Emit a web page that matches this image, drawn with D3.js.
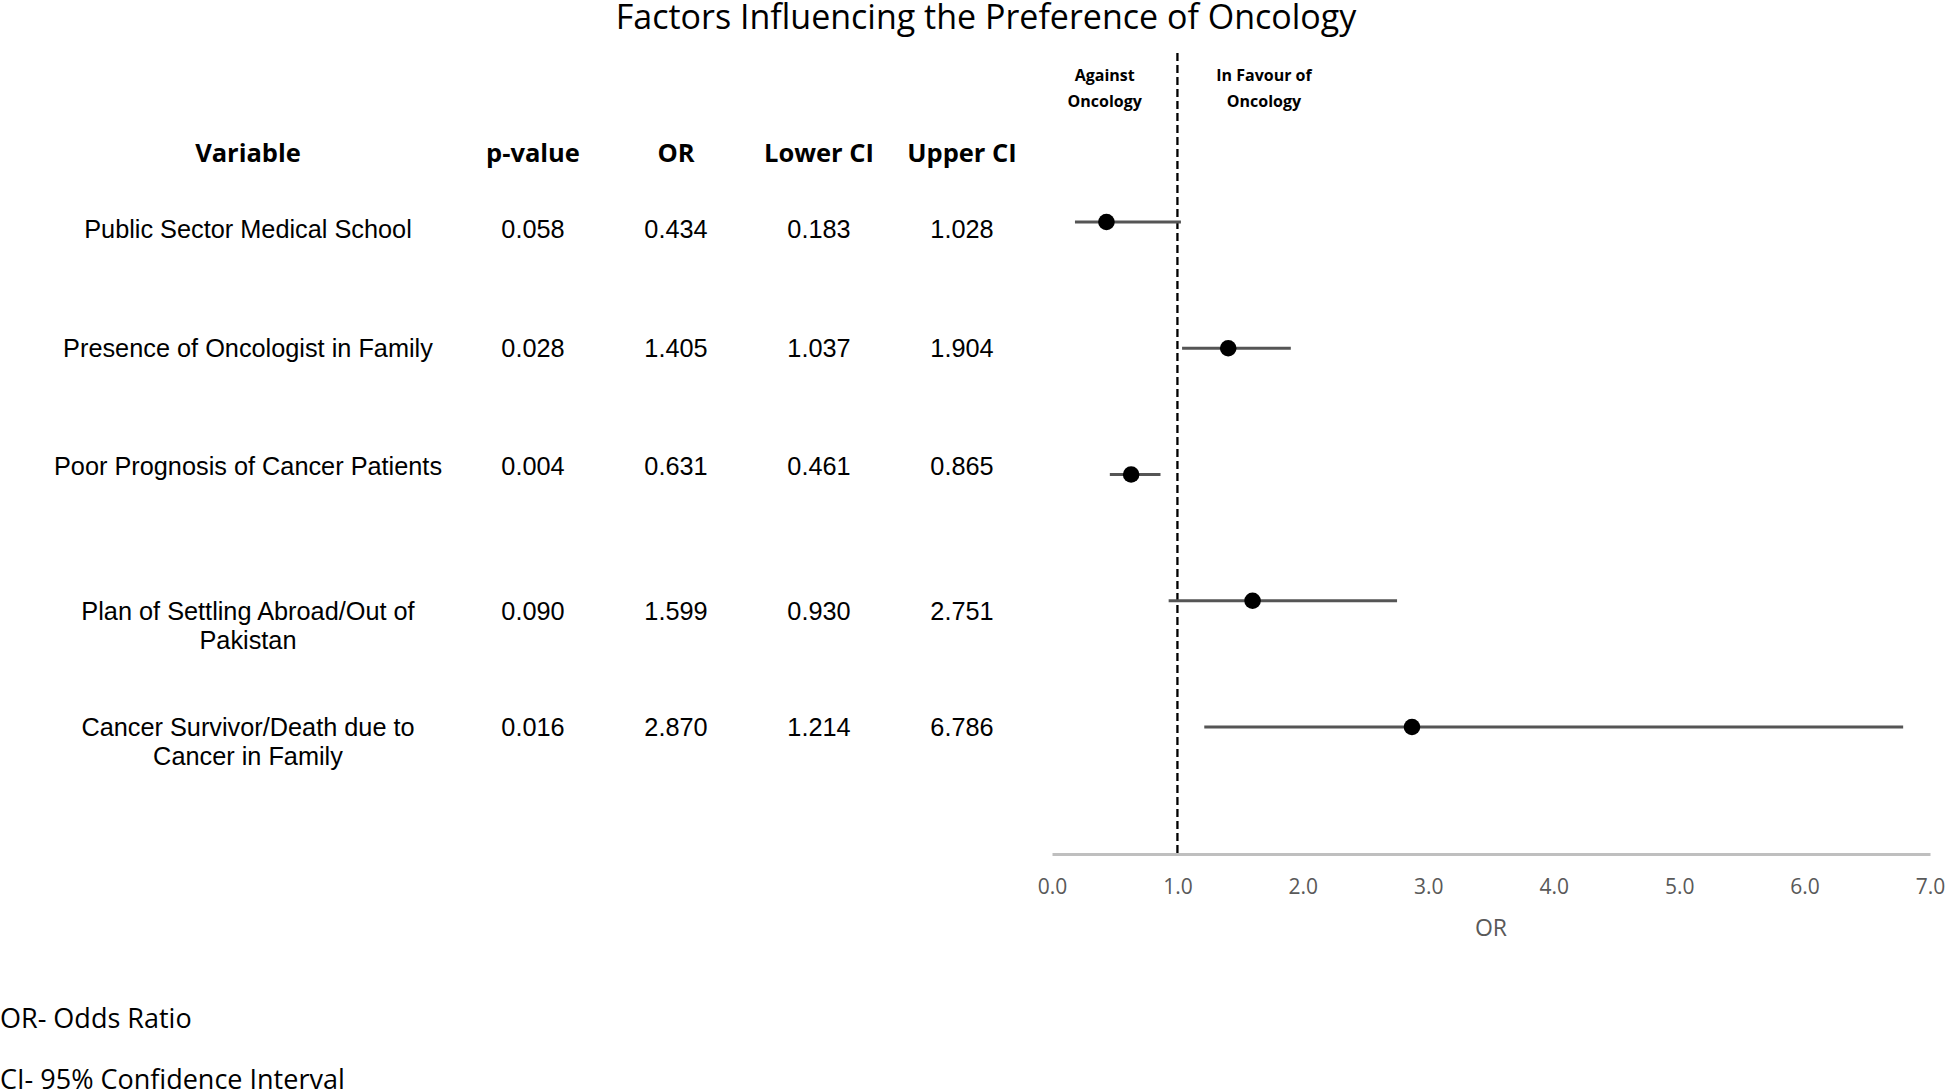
<!DOCTYPE html>
<html>
<head>
<meta charset="utf-8">
<script src="https://cdn.jsdelivr.net/npm/d3@7"></script>
<style>
  html, body { margin: 0; padding: 0; background: #fff; }
  svg { display: block; }
</style>
</head>
<body>
<svg id="chart" width="1952" height="1092"></svg>
<script>
// ---- Data ----
const variables = [
  "Public Sector Medical School",
  "Presence of Oncologist in Family",
  "Poor Prognosis of Cancer Patients",
  "Plan of Settling Abroad/Out of Pakistan",
  "Cancer Survivor/Death due to Cancer in Family"
];
const variableLines = [
  ["Public Sector Medical School"],
  ["Presence of Oncologist in Family"],
  ["Poor Prognosis of Cancer Patients"],
  ["Plan of Settling Abroad/Out of", "Pakistan"],
  ["Cancer Survivor/Death due to", "Cancer in Family"]
];
const pValues = ["0.058", "0.028", "0.004", "0.090", "0.016"];
const orValues = [0.434, 1.405, 0.631, 1.599, 2.870];
const lowerCI = [0.183, 1.037, 0.461, 0.930, 1.214];
const upperCI = [1.028, 1.904, 0.865, 2.751, 6.786];
const xTicks = [0, 1, 2, 3, 4, 5, 6, 7];
const headers = ["Variable", "p-value", "OR", "Lower CI", "Upper CI"];
const footnotes = ["OR- Odds Ratio", "CI- 95% Confidence Interval"];

// ---- Layout ----
const svg = d3.select("#chart");
const sansUI = "'Open Sans', 'DejaVu Sans', sans-serif";
const arial = "'Liberation Sans', Arial, sans-serif";

const x = d3.scaleLinear().domain([0, 7]).range([1052, 1930]);
const y = d3.scalePoint().domain(variables).range([222, 727]);
const axisY = 854;

const colX = [248, 533, 676, 819, 962];
const tableNudge = [7, 0, -8, 10, 0];
const lineGap = 29;

// Title
svg.append("text")
  .attr("x", 986).attr("y", 29)
  .attr("text-anchor", "middle")
  .attr("font-family", sansUI)
  .attr("font-size", 34)
  .attr("fill", "#000")
  .text("Factors Influencing the Preference of Oncology");

// Headers
svg.selectAll("text.header").data(headers).join("text")
  .attr("class", "header")
  .attr("x", (d, i) => colX[i]).attr("y", 162)
  .attr("text-anchor", "middle")
  .attr("font-family", sansUI)
  .attr("font-weight", "bold")
  .attr("font-size", 25.5)
  .attr("fill", "#000")
  .text(d => d);

// Table rows
const rows = svg.selectAll("g.row").data(variables).join("g")
  .attr("class", "row")
  .attr("transform", (d, i) => `translate(0, ${y(d) + tableNudge[i]})`);

rows.each(function(d, i) {
  const g = d3.select(this);
  const lines = variableLines[i];
  lines.forEach((ln, k) => {
    g.append("text")
      .attr("x", colX[0]).attr("y", k * lineGap)
      .attr("dy", "0.35em")
      .attr("text-anchor", "middle")
      .attr("font-family", arial)
      .attr("font-size", 25.3)
      .attr("fill", "#000")
      .text(ln);
  });
  const vals = [pValues[i], orValues[i].toFixed(3), lowerCI[i].toFixed(3), upperCI[i].toFixed(3)];
  vals.forEach((v, k) => {
    g.append("text")
      .attr("x", colX[k + 1]).attr("y", 0)
      .attr("dy", "0.35em")
      .attr("text-anchor", "middle")
      .attr("font-family", arial)
      .attr("font-size", 25.3)
      .attr("fill", "#000")
      .text(v);
  });
});

// X axis
const xAxis = d3.axisBottom(x).tickValues(xTicks).tickFormat(d3.format(".1f")).tickSize(0).tickPadding(25);
const ax = svg.append("g").attr("transform", `translate(0, ${axisY})`).call(xAxis);
ax.select(".domain").attr("stroke", "#bfbfbf").attr("stroke-width", 3);
ax.selectAll(".tick text")
  .attr("font-family", sansUI)
  .attr("font-size", 21)
  .attr("fill", "#595959");

svg.append("text")
  .attr("x", x(3.5)).attr("y", 936)
  .attr("text-anchor", "middle")
  .attr("font-family", sansUI)
  .attr("font-size", 23)
  .attr("fill", "#595959")
  .text("OR");

// Reference dashed line at OR = 1
svg.append("line")
  .attr("x1", x(1)).attr("x2", x(1))
  .attr("y1", 53).attr("y2", axisY)
  .attr("stroke", "#000")
  .attr("stroke-width", 2.3)
  .attr("stroke-dasharray", "8,4");

// Against / In favour labels
const sideLabels = [
  { lines: ["Against", "Oncology"], v: 0.42 },
  { lines: ["In Favour of", "Oncology"], v: 1.69 }
];
sideLabels.forEach(s => {
  s.lines.forEach((ln, k) => {
    svg.append("text")
      .attr("x", x(s.v)).attr("y", 81 + k * 26)
      .attr("text-anchor", "middle")
      .attr("font-family", sansUI)
      .attr("font-weight", "bold")
      .attr("font-size", 16)
      .attr("fill", "#000")
      .text(ln);
  });
});

// Error bars
svg.selectAll("line.ci").data(variables).join("line")
  .attr("class", "ci")
  .attr("x1", (d, i) => x(lowerCI[i]))
  .attr("x2", (d, i) => x(upperCI[i]))
  .attr("y1", d => y(d)).attr("y2", d => y(d))
  .attr("stroke", "#555555")
  .attr("stroke-width", 3);

// Points
svg.selectAll("circle.pt").data(variables).join("circle")
  .attr("class", "pt")
  .attr("cx", (d, i) => x(orValues[i]))
  .attr("cy", d => y(d))
  .attr("r", 8.3)
  .attr("fill", "#000");

// Footnotes
footnotes.forEach((f, k) => {
  svg.append("text")
    .attr("x", 0).attr("y", 1028 + k * 61)
    .attr("font-family", sansUI)
    .attr("font-size", 27)
    .attr("fill", "#000")
    .text(f);
});
</script>
</body>
</html>
